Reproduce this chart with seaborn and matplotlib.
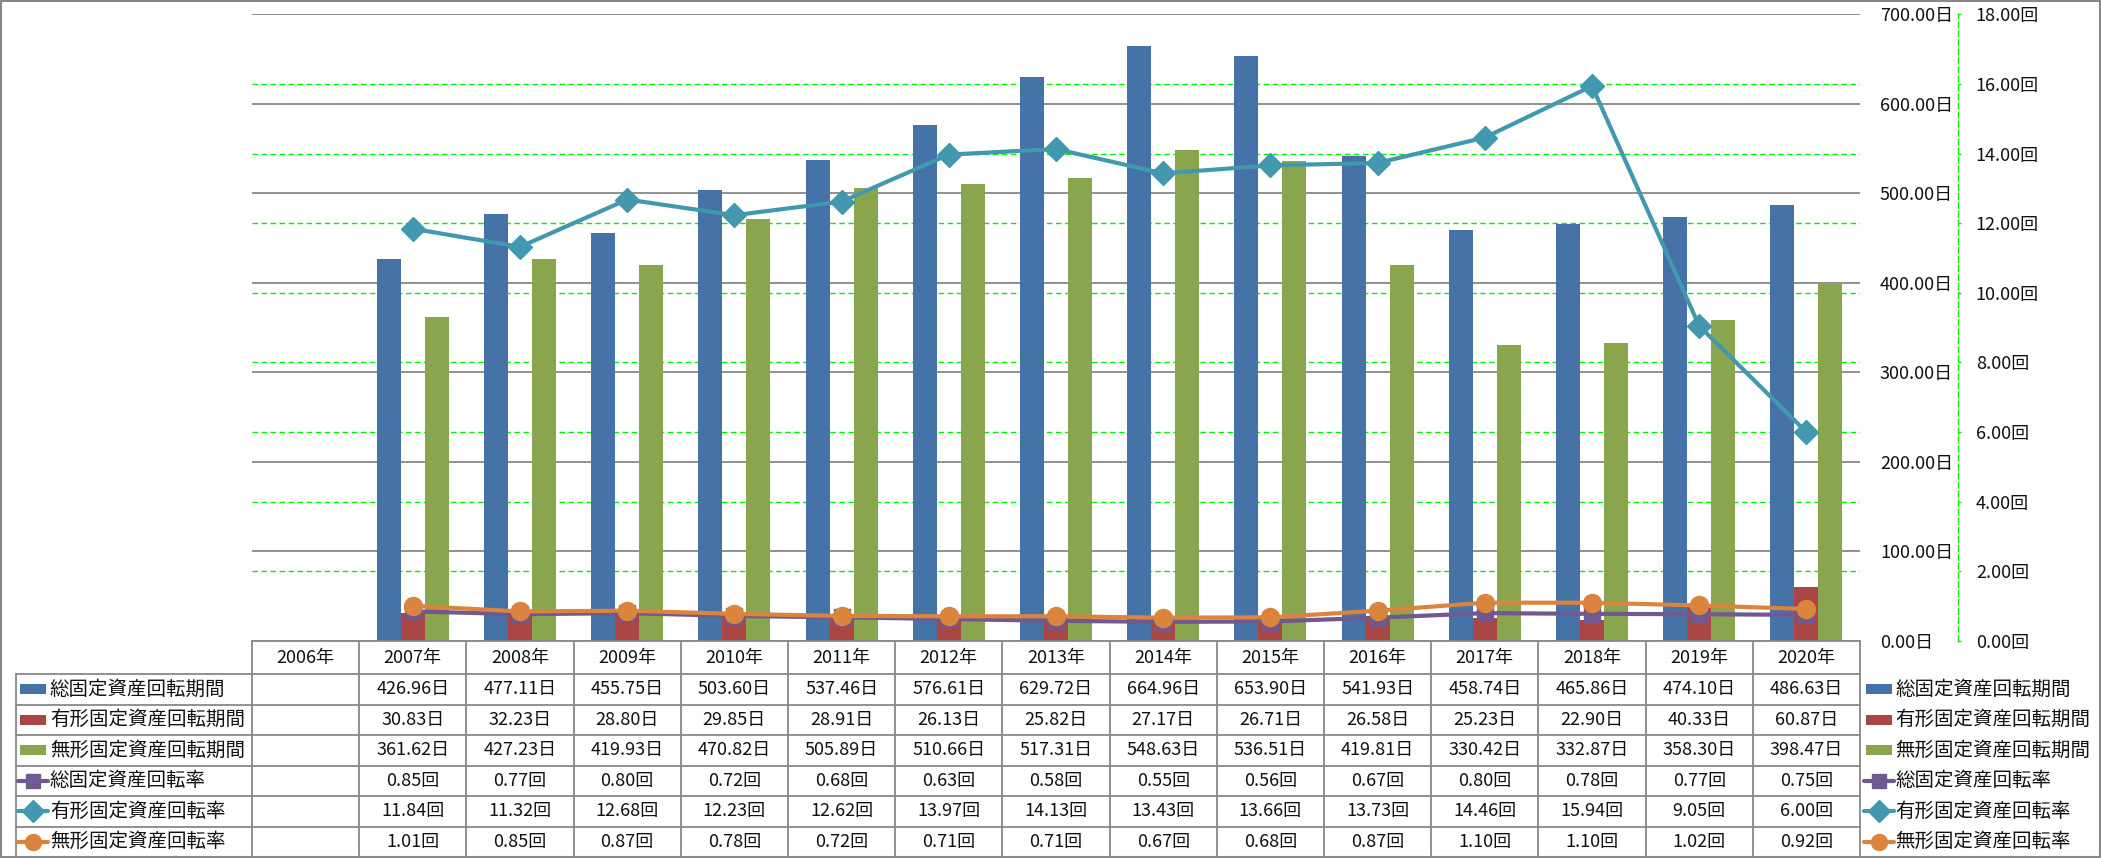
import numpy as np
import pandas as pd
import matplotlib
matplotlib.use('Agg')
import matplotlib.pyplot as plt
import seaborn as sns
from matplotlib.transforms import blended_transform_factory
from matplotlib.patches import Rectangle
from matplotlib.lines import Line2D

# ---------------- data ----------------
years = ['2006年', '2007年', '2008年', '2009年', '2010年', '2011年', '2012年', '2013年',
         '2014年', '2015年', '2016年', '2017年', '2018年', '2019年', '2020年']
total_days = [np.nan, 426.96, 477.11, 455.75, 503.60, 537.46, 576.61, 629.72,
              664.96, 653.90, 541.93, 458.74, 465.86, 474.10, 486.63]
tangible_days = [np.nan, 30.83, 32.23, 28.80, 29.85, 28.91, 26.13, 25.82,
                 27.17, 26.71, 26.58, 25.23, 22.90, 40.33, 60.87]
intangible_days = [np.nan, 361.62, 427.23, 419.93, 470.82, 505.89, 510.66, 517.31,
                   548.63, 536.51, 419.81, 330.42, 332.87, 358.30, 398.47]
total_rate = [np.nan, 0.85, 0.77, 0.80, 0.72, 0.68, 0.63, 0.58,
              0.55, 0.56, 0.67, 0.80, 0.78, 0.77, 0.75]
tangible_rate = [np.nan, 11.84, 11.32, 12.68, 12.23, 12.62, 13.97, 14.13,
                 13.43, 13.66, 13.73, 14.46, 15.94, 9.05, 6.00]
intangible_rate = [np.nan, 1.01, 0.85, 0.87, 0.78, 0.72, 0.71, 0.71,
                   0.67, 0.68, 0.87, 1.10, 1.10, 1.02, 0.92]

bar_names = ['総固定資産回転期間', '有形固定資産回転期間', '無形固定資産回転期間']
line_names = ['総固定資産回転率', '有形固定資産回転率', '無形固定資産回転率']
bar_series = [total_days, tangible_days, intangible_days]
line_series = [total_rate, tangible_rate, intangible_rate]
bar_colors = ['#4572A7', '#AA4643', '#89A54E']
line_colors = ['#71588F', '#4198AF', '#DB843D']
line_markers = ['s', 'D', 'o']
line_msizes = [12, 12.5, 13]

# ---------------- style ----------------
sns.set_style('white')
plt.rcParams['font.family'] = ['Noto Sans CJK JP', 'DejaVu Sans']
TXT = '#111111'
GRID = '#888888'
GREEN = '#00ee00'
DASH = (0, (4, 2.5))

W, H = 2101, 858
fig = plt.figure(figsize=(W / 100, H / 100), dpi=100)

# overlay in pixel coordinates (table, legend, border)
ov = fig.add_axes([0, 0, 1, 1])
ov.set_xlim(0, W)
ov.set_ylim(H, 0)
ov.axis('off')

PL, PR, PT, PB = 252, 1860, 14.3, 641
ax = fig.add_axes([PL / W, 1 - PB / H, (PR - PL) / W, (PB - PT) / H])
ax.patch.set_alpha(0)

# ---------------- bars ----------------
rows = []
for name, vals in zip(bar_names, bar_series):
    for yr, v in zip(years, vals):
        if not np.isnan(v):
            rows.append((yr, name, v))
df = pd.DataFrame(rows, columns=['year', 'series', 'value'])
sns.barplot(data=df, x='year', y='value', hue='series', order=years, hue_order=bar_names,
            palette=bar_colors, width=0.672, saturation=1, errorbar=None, legend=False,
            ax=ax, zorder=2, linewidth=0)

ax.set_xlim(-0.5, len(years) - 0.5)
ax.set_ylim(0, 700)
ax.set_yticks(np.arange(0, 701, 100))
ax.grid(axis='y', color=GRID, lw=1.3)
ax.grid(axis='x', visible=False)
ax.set_axisbelow(True)
ax.set_xlabel('')
ax.set_ylabel('')

# ---------------- lines (secondary axis) ----------------
ax2 = ax.twinx()
ax2.set_ylim(0, 18)
ax2.set_yticks(np.arange(0, 19, 2))
xs = np.arange(len(years))
for name, vals, c, m, ms in zip(line_names, line_series, line_colors, line_markers, line_msizes):
    sns.lineplot(x=xs, y=vals, ax=ax2, color=c, marker=m, markersize=ms,
                 markeredgecolor=c, markeredgewidth=1, linewidth=3, legend=False)
ax2.set_ylabel('')
ax2.grid(False)

# secondary gridlines drawn behind the bars on the primary axes
for t in ax2.get_yticks():
    if 0 < t < 18:
        ax.axhline(t * 700 / 18, color=GREEN, ls=DASH, lw=1, zorder=1)

# axis formatting
ax.yaxis.tick_right()
ax.yaxis.set_major_formatter(lambda v, p: f'{v:.2f}日')
ax.tick_params(axis='y', length=0, pad=14.4, labelsize=13, labelcolor=TXT,
               labelright=True, labelleft=False)
ax.tick_params(axis='x', length=0, labelbottom=False)
for s in ['top', 'left', 'right']:
    ax.spines[s].set_visible(False)
ax.spines['bottom'].set_color(GRID)
ax.spines['bottom'].set_linewidth(1.3)

ax2.yaxis.set_major_formatter(lambda v, p: f'{v:.2f}回')
for s in ['top', 'left', 'bottom']:
    ax2.spines[s].set_visible(False)
ax2.spines['right'].set_position(('outward', 70.5))
ax2.spines['right'].set_color(GREEN)
ax2.spines['right'].set_linestyle(DASH)
ax2.spines['right'].set_linewidth(1)
ax2.tick_params(axis='y', direction='out', length=2.4, width=1, color=GREEN,
                pad=10.5, labelsize=13, labelcolor=TXT)

# ---------------- data table ----------------
bt = blended_transform_factory(ax.transData, ov.transData)
row_edges = [674, 704.5, 735, 765.5, 796, 826.5, 857]
row_centers = [(a + b) / 2 for a, b in zip(row_edges[:-1], row_edges[1:])]
LABX0 = 16

for b in np.arange(-0.5, len(years), 1.0):
    ov.plot([b, b], [PB, H], transform=bt, color=GRID, lw=1.3, clip_on=False)
for yy in row_edges[:-1]:
    ov.plot([LABX0, PR], [yy, yy], color=GRID, lw=1.3, clip_on=False)
ov.plot([LABX0, LABX0], [row_edges[0], H], color=GRID, lw=1.3, clip_on=False)

for i, yr in enumerate(years):
    ov.text(i, (PB + row_edges[0]) / 2, yr, transform=bt, ha='center', va='center',
            fontsize=13, color=TXT)

all_series = bar_series + line_series
units = ['日'] * 3 + ['回'] * 3
for r, (vals, unit) in enumerate(zip(all_series, units)):
    for i, v in enumerate(vals):
        if not np.isnan(v):
            ov.text(i, row_centers[r], f'{v:.2f}{unit}', transform=bt, ha='center',
                    va='center', fontsize=13, color=TXT)

all_names = bar_names + line_names


def draw_key(x0, yc, idx):
    if idx < 3:
        ov.add_patch(Rectangle((x0 + 4, yc - 5), 26, 10, color=bar_colors[idx], lw=0))
    else:
        j = idx - 3
        ov.add_line(Line2D([x0 + 2, x0 + 32], [yc, yc], color=line_colors[j], lw=3))
        ov.add_line(Line2D([x0 + 17], [yc], color=line_colors[j], marker=line_markers[j],
                           markersize=line_msizes[j] - 1.5, markeredgecolor=line_colors[j], lw=0))


for r, name in enumerate(all_names):
    yc = row_centers[r]
    draw_key(LABX0, yc, r)
    ov.text(50, yc, name, ha='left', va='center', fontsize=14, color=TXT)
    draw_key(1862, yc, r)
    ov.text(1895, yc, name, ha='left', va='center', fontsize=14, color=TXT)

# outer chart border
ov.add_patch(Rectangle((1, 1), W - 2, H - 2, fill=False, ec=GRID, lw=1.5))

fig.savefig('out.png', dpi=100)
